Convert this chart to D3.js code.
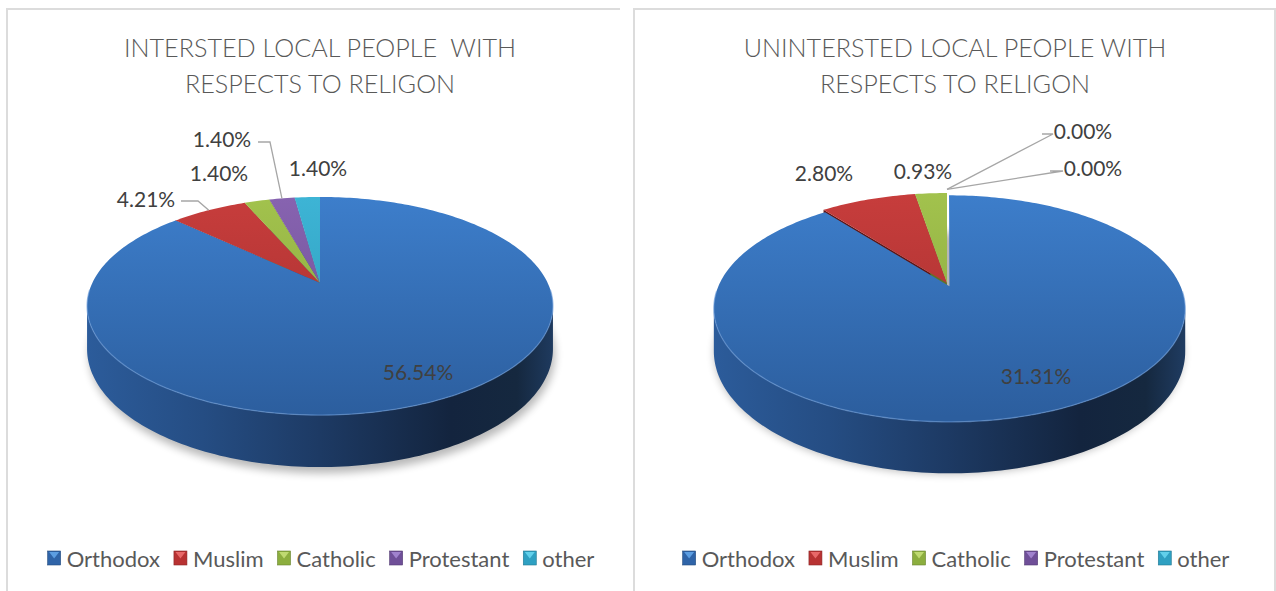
<!DOCTYPE html>
<html>
<head>
<meta charset="utf-8">
<script src="https://cdn.jsdelivr.net/npm/d3@7"></script>
<style>
body { margin: 0; background: #fff; }
svg { display: block; font-family: Lato, "Open Sans", sans-serif; }
</style>
</head>
<body>
<svg id="chart" width="1276" height="591"></svg>
<script>
// data
const religions = ["Orthodox", "Muslim", "Catholic", "Protestant", "other"];
const interested = [56.54, 4.21, 1.40, 1.40, 1.40];
const uninterested = [31.31, 2.80, 0.93, 0.00, 0.00];
const titleLeft = ["INTERSTED LOCAL PEOPLE  WITH", "RESPECTS TO RELIGON"];
const titleRight = ["UNINTERSTED LOCAL PEOPLE WITH", "RESPECTS TO RELIGON"];

// colours: [top light, top dark, wall]
const sliceColors = [
    ["#3d7ecb", "#2c5e9e", "#1f3f6b"],
    ["#c73d3c", "#a12e2d", "#5e1414"],
    ["#a2c24d", "#86a33b", "#5d7428"],
    ["#8763b0", "#6a4c90", "#4a3566"],
    ["#3db4d5", "#2b96b5", "#1d6a80"]
];
const legendColors = ["#2f64a8", "#b83232", "#8cae3e", "#6f4f98", "#2ea0c2"];
const legendLight = ["#64a8ec", "#f07272", "#c8e27a", "#a98bd6", "#6ad8f2"];

// layout of each panel (pie projection + label spots relative to pie apex)
const panels = [
    {
        left: 7, right: 620, center: 320, rightBorder: false, title: titleLeft, values: interested,
        cx: 320, cy: 283, A: 227.7, B: 104.2, p: 0.211, H: 41, explode: 0,
        labels: [
            { dx: 98, dy: 88 },
            { dx: -174, dy: -85, leader: [[-139, -82], [-122, -82]] },
            { dx: -101, dy: -111 },
            { dx: -98, dy: -145, leader: [[-62, -141], [-50, -141]] },
            { dx: -2, dy: -116 }
        ]
    },
    {
        left: 634, right: 1275, center: 955, rightBorder: true, title: titleRight, values: uninterested,
        cx: 947, cy: 283, A: 229.7, B: 107.6, p: 0.196, H: 41, explode: 0.032,
        labels: [
            { dx: 89, dy: 92 },
            { dx: -123, dy: -111 },
            { dx: -24, dy: -113 },
            { dx: 136, dy: -153, leader: [[106, -149], [95, -149]], lr: 1.05 },
            { dx: 146, dy: -116, leader: [[116, -112], [103, -112]], lr: 1.05 }
        ]
    }
];

const svg = d3.select("#chart");
const defs = svg.append("defs");

defs.append("filter").attr("id", "blur")
    .attr("x", "-20%").attr("y", "-20%").attr("width", "140%").attr("height", "140%")
    .append("feGaussianBlur").attr("stdDeviation", 4);

const pie = d3.pie().sort(null).value(d => d);
const fmt = d => d.toFixed(2) + "%";

function proj(P, a, r, z, off) {
    off = off || [0, 0];
    const u = r * Math.sin(a) + off[0];
    const v = r * Math.cos(a) + off[1];
    const w = 1 + P.p * v;
    return [P.cx + P.A * u / w, P.cy - P.B * v / w + z * P.H / w];
}

function arcPts(P, a0, a1, z, off) {
    const n = Math.max(2, Math.ceil(Math.abs(a1 - a0) / 0.02));
    return d3.range(n + 1).map(i => proj(P, a0 + (a1 - a0) * i / n, 1, z, off));
}

const line = d3.line();

panels.forEach((P, pi) => {
    const g = svg.append("g");

    // panel frame
    g.append("path")
        .attr("d", `M${P.left},600 V9 H${P.right}` + (P.rightBorder ? " V600" : ""))
        .attr("fill", "none").attr("stroke", "#dcdcdc").attr("stroke-width", 2);

    const center = P.center;

    // title
    const title = g.append("text")
        .attr("text-anchor", "middle")
        .attr("fill", "#595959")
        .style("font-size", "25.2px")
        .style("font-weight", 300)
        .style("white-space", "pre");
    P.title.forEach((t, i) => {
        title.append("tspan").attr("x", center).attr("y", 57 + i * 36).text(t);
    });

    // gradients
    const topY = P.cy - P.B / (1 + P.p), botY = P.cy + P.B / (1 - P.p);
    sliceColors.forEach((c, i) => {
        const lg = defs.append("linearGradient").attr("id", `top${pi}_${i}`)
            .attr("gradientUnits", "userSpaceOnUse")
            .attr("x1", 0).attr("x2", 0).attr("y1", topY).attr("y2", botY);
        lg.append("stop").attr("offset", "0%").attr("stop-color", c[0]);
        lg.append("stop").attr("offset", "100%").attr("stop-color", c[1]);
    });
    const wg = defs.append("linearGradient").attr("id", `wall${pi}`)
        .attr("gradientUnits", "userSpaceOnUse")
        .attr("x1", P.cx - P.A * 1.03).attr("x2", P.cx + P.A * 1.03).attr("y1", 0).attr("y2", 0);
    [["0%", "#2c5c9b"], ["25%", "#254d83"], ["50%", "#1d3a64"], ["78%", "#13243e"], ["92%", "#15283f"], ["100%", "#1f3b60"]]
        .forEach(s => wg.append("stop").attr("offset", s[0]).attr("stop-color", s[1]));

    const arcs = pie(P.values);

    // shadow
    g.append("path")
        .attr("d", line(arcPts(P, 0, 2 * Math.PI, 1.06)) + "Z")
        .attr("transform", "translate(2,3)")
        .attr("fill", "#000").attr("opacity", 0.28)
        .attr("filter", "url(#blur)");

    const ortho = arcs[0];
    const om = (ortho.startAngle + ortho.endAngle) / 2;
    const off = [P.explode * Math.sin(om), P.explode * Math.cos(om)];

    // radial walls of small slices (seen through the gap of the exploded slice)
    arcs.slice(1).forEach((d, k) => {
        const i = k + 1;
        if (d.endAngle - d.startAngle <= 0) return;
        const a = d.startAngle;
        g.append("path")
            .attr("d", line([proj(P, a, 0, 0), proj(P, a, 1, 0), proj(P, a, 1, 1), proj(P, a, 0, 1)]) + "Z")
            .attr("fill", sliceColors[i][2]);
    });
    const lastSmall = arcs.filter((d, i) => i > 0 && d.endAngle > d.startAngle).pop();
    if (lastSmall && P.explode > 0) {
        const a = lastSmall.endAngle - 0.001;
        g.append("path")
            .attr("d", line([proj(P, a, 0, 0), proj(P, a, 1, 0), proj(P, a, 1, 1), proj(P, a, 0, 1)]) + "Z")
            .attr("fill", "#a8a8a8");
    }

    // tops of small slices
    arcs.slice(1).forEach((d, k) => {
        const i = k + 1;
        if (d.endAngle - d.startAngle <= 0) return;
        const pts = [proj(P, 0, 0, 0)].concat(arcPts(P, d.startAngle, d.endAngle, 0));
        g.append("path").attr("d", line(pts) + "Z")
            .attr("fill", `url(#top${pi}_${i})`);
    });

    // outer wall of the big slice (front side)
    const sil = Math.acos(-P.p);
    const w0 = Math.max(ortho.startAngle, sil), w1 = Math.min(ortho.endAngle, 2 * Math.PI - sil);
    const wallPts = arcPts(P, w0, w1, 0, off).concat(arcPts(P, w1, w0, 1, off));
    g.append("path").attr("d", line(wallPts) + "Z").attr("fill", `url(#wall${pi})`);

    // top of the big slice
    const oPts = [proj(P, 0, 0, 0, off)].concat(arcPts(P, ortho.startAngle, ortho.endAngle, 0, off));
    g.append("path").attr("d", line(oPts) + "Z").attr("fill", `url(#top${pi}_0)`);

    // highlight along the front rim
    g.append("path")
        .attr("d", line(arcPts(P, sil - 0.15, 2 * Math.PI - sil + 0.15, 0, off)))
        .attr("fill", "none").attr("stroke", "#6b9bd8").attr("stroke-width", 1.3).attr("opacity", 0.6);

    // labels
    arcs.forEach((d, i) => {
        const L = P.labels[i];
        const x = P.cx + L.dx, y = P.cy + L.dy;
        if (L.leader) {
            const am = (d.startAngle + d.endAngle) / 2;
            const end = proj(P, am, L.lr || 1, 0);
            const pts = L.leader.map(q => [P.cx + q[0], P.cy + q[1]]);
            g.append("path").attr("d", line(L.dx < 0 ? [pts[0], pts[1], end] : [pts[1], pts[0], end]))
                .attr("fill", "none").attr("stroke", "#a6a6a6").attr("stroke-width", 1.3);
        }
        g.append("text")
            .attr("x", x).attr("y", y)
            .attr("text-anchor", "middle").attr("dominant-baseline", "central")
            .attr("fill", "#404040")
            .style("font-size", "21px")
            .text(fmt(P.values[i]));
    });

    // legend
    const lg = g.append("g");
    const items = lg.selectAll("g").data(religions).enter().append("g");
    items.append("text")
        .attr("x", 19).attr("y", 0)
        .attr("dominant-baseline", "central")
        .attr("fill", "#595959")
        .style("font-size", "22px")
        .text(d => d);
    let xpos = 0;
    items.each(function(d, i) {
        const tw = d3.select(this).select("text").node().getComputedTextLength();
        d3.select(this).attr("transform", `translate(${xpos},0)`);
        xpos += 19 + tw + 14;
    });
    const total = xpos - 14;
    items.append("rect")
        .attr("x", 0).attr("y", -7).attr("width", 13).attr("height", 14)
        .attr("fill", (d, i) => legendColors[i])
        .attr("stroke", (d, i) => d3.color(legendColors[i]).darker(0.8)).attr("stroke-width", 0.6);
    items.append("path")
        .attr("d", "M1.5,-6 L11.5,-6 L6.5,0.5 Z")
        .attr("fill", (d, i) => legendLight[i]).attr("opacity", 0.85);
    lg.attr("transform", `translate(${center + 1 - total / 2},558)`);
});
</script>
</body>
</html>
